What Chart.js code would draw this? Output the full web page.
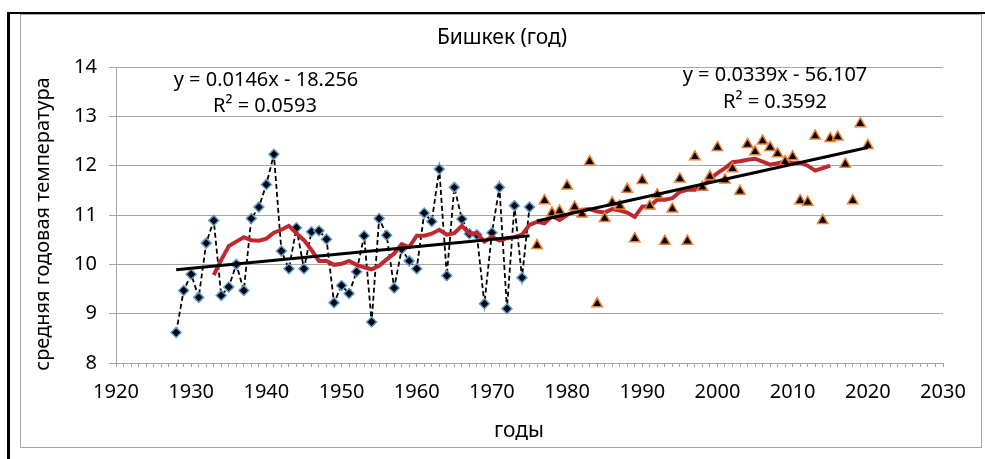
<!DOCTYPE html>
<html>
<head>
<meta charset="utf-8">
<script src="https://cdn.jsdelivr.net/npm/chart.js@4.4.0/dist/chart.umd.min.js"></script>
<style>
  html,body{margin:0;padding:0;background:#fff;}
  #frame{position:absolute;left:7px;top:12px;width:976px;height:460px;border-top:2px solid #000;border-left:3px solid #000;}
  #box{position:absolute;left:20px;top:14px;width:960px;height:432px;border:1px solid #a6a6a6;}
  #wrap{position:absolute;left:0;top:0;width:985px;height:459px;}
</style>
</head>
<body>
<div id="frame"></div>
<div id="box"></div>
<div id="wrap"><canvas id="chart"></canvas></div>
<script>
// ряд 1: 1928-1975 (ромбы)
const years1 = [1928,1929,1930,1931,1932,1933,1934,1935,1936,1937,1938,1939,1940,1941,1942,1943,1944,1945,1946,1947,1948,1949,1950,1951,
                1952,1953,1954,1955,1956,1957,1958,1959,1960,1961,1962,1963,1964,1965,1966,1967,1968,1969,1970,1971,1972,1973,1974,1975];
const temps1 = [8.62,9.47,9.80,9.33,10.43,10.89,9.37,9.54,10.00,9.47,10.93,11.16,11.62,12.23,10.27,9.91,10.74,9.91,10.66,10.68,10.51,9.22,9.57,9.41,
                9.85,10.58,8.83,10.93,10.59,9.52,10.31,10.07,9.91,11.04,10.87,11.93,9.77,11.56,10.92,10.62,10.60,9.20,10.64,11.56,9.10,11.19,9.73,11.16];

// ряд 2: 1976-2020 (треугольники)
const years2 = [1976,1977,1978,1979,1980,1981,1982,1983,1984,1985,1986,1987,1988,1989,1990,1991,1992,1993,1994,1995,1996,1997,1998,
                1999,2000,2001,2002,2003,2004,2005,2006,2007,2008,2009,2010,2011,2012,2013,2014,2015,2016,2017,2018,2019,2020];
const temps2 = [10.38,11.29,11.04,11.08,11.59,11.16,11.02,12.08,9.20,10.93,11.25,11.18,11.52,10.52,11.70,11.18,11.41,10.47,11.12,11.73,10.47,12.18,11.56,
                11.78,12.37,11.71,11.94,11.48,12.43,12.28,12.50,12.37,12.24,12.08,12.18,11.29,11.26,12.60,10.89,12.55,12.58,12.03,11.29,12.85,12.41];

// скользящее среднее (красная линия)
const yearsAvg = [1933,1934,1935,1936,1937,1938,1939,1940,1941,1942,1943,1944,1945,1946,1947,1948,1949,1950,1951,1952,1953,1954,1955,1956,1957,1958,1959,
                  1960,1961,1962,1963,1964,1965,1966,1967,1968,1969,1970,1971,1972,1973,1974,1975,1976,1977,1978,1979,1980,1981,1982,1983,1984,1985,1986,
                  1987,1988,1989,1990,1991,1992,1993,1994,1995,1996,1997,1998,1999,2000,2001,2002,2003,2004,2005,2006,2007,2008,2009,2010,2011,2012,2013,2014,2015];
const tempsAvg = [9.78,10.09,10.37,10.46,10.55,10.49,10.48,10.52,10.64,10.70,10.78,10.63,10.49,10.29,10.07,10.07,9.99,10.01,10.07,9.99,9.94,9.90,9.97,10.10,10.22,10.41,10.35,
                  10.58,10.58,10.62,10.70,10.60,10.63,10.78,10.62,10.63,10.46,10.56,10.48,10.53,10.55,10.60,10.80,10.86,10.83,10.98,10.90,11.00,11.07,11.10,11.12,11.07,11.05,11.12,
                  11.09,11.05,10.96,11.17,11.18,11.31,11.31,11.34,11.47,11.51,11.51,11.59,11.72,11.85,11.95,12.07,12.09,12.12,12.14,12.08,12.02,12.05,12.08,12.05,12.06,12.00,11.90,11.95,12.00];

// линии тренда (концы)
const trend1X = [1928,1975];
const trend1Y = [9.89,10.58];
const trend2X = [1976,2020];
const trend2Y = [10.88,12.37];

const chartTitle = 'Бишкек (год)';
const yTitle = 'средняя годовая температура';
const xTitle = 'годы';
const eqLabels = [
  ['y = 0.0146x - 18.256','R² = 0.0593'],
  ['y = 0.0339x - 56.107','R² = 0.3592']
];

const FONT='"Noto Sans", sans-serif';
const xy=(xs,ys)=>xs.map((x,i)=>({x:x,y:ys[i]}));

// подписи: заголовок, оси, уравнения трендов
const textPlugin={
  id:'texts',
  afterDraw(chart){
    const ctx=chart.ctx;
    ctx.save();
    ctx.fillStyle='#000';
    ctx.textAlign='center';
    ctx.textBaseline='middle';
    ctx.font='21px '+FONT;
    ctx.fillText(chartTitle,502,38);
    ctx.fillText(xTitle,519,431);
    ctx.font='20px '+FONT;
    ctx.fillText(eqLabels[0][0],266,80);
    ctx.fillText(eqLabels[0][1],265,106);
    ctx.fillText(eqLabels[1][0],775,75);
    ctx.fillText(eqLabels[1][1],775,102);
    ctx.translate(43,224);
    ctx.rotate(-Math.PI/2);
    ctx.fillText(yTitle,0,0);
    ctx.restore();
  }
};

new Chart(document.getElementById('chart'),{
  type:'scatter',
  data:{
    datasets:[
      {
        data:xy(trend1X,trend1Y), showLine:true, borderColor:'#000', borderWidth:3,
        pointRadius:0, order:0
      },
      {
        data:xy(trend2X,trend2Y), showLine:true, borderColor:'#000', borderWidth:3,
        pointRadius:0, order:0
      },
      {
        data:xy(years2,temps2), showLine:false, pointStyle:'triangle', pointRadius:6,
        backgroundColor:'#000', borderColor:'#ed7d31', borderWidth:1.5, order:1
      },
      {
        data:xy(yearsAvg,tempsAvg), showLine:true, borderColor:'#c0282d', borderWidth:4,
        pointRadius:0, order:2
      },
      {
        data:xy(years1,temps1), showLine:true, borderColor:'#000', borderWidth:1.8, borderDash:[5,3],
        pointStyle:'rectRot', pointRadius:5, backgroundColor:'#000', pointBorderColor:'#5b9bd5', pointBorderWidth:1.5,
        order:3
      }
    ]
  },
  options:{
    responsive:true,
    maintainAspectRatio:false,
    animation:false,
    layout:{padding:{left:20,top:67,right:42,bottom:14}},
    plugins:{
      legend:{display:false},
      tooltip:{enabled:false},
      title:{display:false}
    },
    scales:{
      x:{
        type:'linear', min:1920, max:2030,
        afterFit:s=>{ s.height=82; },
        ticks:{
          stepSize:1, autoSkip:false, maxRotation:0, color:'#000', padding:13,
          font:{family:FONT,size:20},
          callback:v=> v%10===0 ? String(v) : ''
        },
        grid:{drawOnChartArea:false, tickLength:4, color:'#a6a6a6'},
        border:{color:'#a6a6a6'}
      },
      y:{
        min:8, max:14,
        afterFit:s=>{ s.width=96; },
        ticks:{stepSize:1, color:'#000', padding:12, font:{family:FONT,size:20}},
        grid:{color:'#a6a6a6', tickLength:7},
        border:{color:'#a6a6a6'}
      }
    }
  },
  plugins:[textPlugin]
});
</script>
</body>
</html>
